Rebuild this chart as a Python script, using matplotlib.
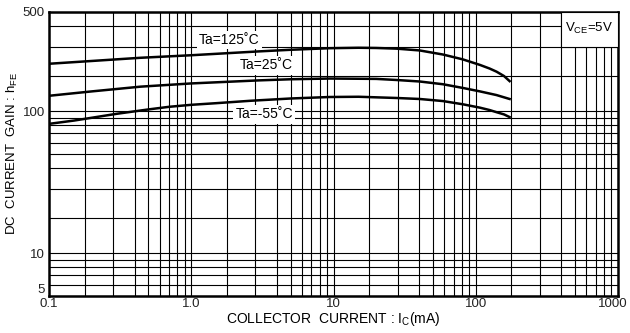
import matplotlib
matplotlib.use("Agg")
import matplotlib.pyplot as plt
import matplotlib.transforms as mtrans
from matplotlib.patches import Rectangle

plt.rcParams['font.family'] = ['Liberation Sans', 'DejaVu Sans']
plt.rcParams['mathtext.fontset'] = 'custom'
plt.rcParams['mathtext.rm'] = 'Liberation Sans'

# datos (Ic en mA, hFE)
ic_125 = [0.1, 0.2, 0.44, 1.0, 2.0, 3.0, 5.0, 9.4, 15, 20, 27.8, 40.4, 58.7, 81, 107, 125, 140, 158, 173]
hfe_125 = [216, 226, 238, 248, 258, 264, 271, 278, 280, 279, 276, 268, 251, 232, 212, 200, 190, 177, 163]

ic_25 = [0.1, 0.2, 0.44, 1.0, 2.0, 3.0, 5.0, 9.4, 20, 27.8, 40.4, 58.7, 81, 107, 140, 173]
hfe_25 = [128.5, 138, 149, 157, 162, 165, 168, 170, 169, 166, 162, 155, 146, 138, 130, 122]

ic_m55 = [0.1, 0.15, 0.2, 0.3, 0.5, 0.7, 1.0, 1.5, 2.6, 5.0, 9.4, 15, 27.8, 40.4, 58.7, 81, 107, 125, 140, 158, 173]
hfe_m55 = [81.5, 86, 90, 96, 103, 107.5, 111, 114, 118.5, 123, 126, 126.5, 124, 122, 118, 112, 106, 102, 98.5, 95, 91]

x_major = [0.1, 1, 10, 100, 1000]
x_labels = ["0.1", "1.0", "10", "100", "1000"]
y_major = [5, 10, 100, 500]
y_labels = ["5", "10", "100", "500"]
# rejilla del datasheet (las lineas 2 y 3 estan desplazadas)
grid_mult = [1.78, 2.82, 4, 5, 6, 7, 8, 9]

fig = plt.figure(figsize=(6.3, 3.33), dpi=100)
ax = fig.add_axes([49/630, 1-296/333, (618-49)/630, (296-12)/333])
ax.set_xscale("log")
ax.set_yscale("log")
ax.set_xlim(0.1, 1000)
ax.set_ylim(5, 500)

x_minor = [d*m for d in [0.1, 1, 10, 100] for m in grid_mult]
y_minor = [d*m for d in [1, 10, 100] for m in grid_mult if 5 < d*m < 500]
ax.set_xticks(x_major)
ax.set_xticklabels(x_labels)
ax.set_xticks(x_minor, minor=True)
ax.set_yticks(y_major)
ax.set_yticklabels(y_labels)
ax.set_yticks(y_minor, minor=True)
ax.xaxis.set_minor_formatter(plt.NullFormatter())
ax.yaxis.set_minor_formatter(plt.NullFormatter())
ax.tick_params(which="both", length=0, labelsize=9.5, colors="#222222")
ax.tick_params(axis="x", pad=1.5)
ax.tick_params(axis="y", pad=3)
ax.grid(which="both", color="black", lw=0.8)
ax.set_axisbelow(True)
for s in ax.spines.values():
    s.set_linewidth(1.8)

# el "5" va un poco arriba para no chocar con "0.1", y "1000" alineado a la derecha
ax.get_yticklabels()[0].set_va("bottom")
lbl = ax.get_xticklabels()[-1]
lbl.set_ha("right")
lbl.set_transform(lbl.get_transform() + mtrans.ScaledTranslation(10/100, 0, fig.dpi_scale_trans))

# curvas
ax.plot(ic_125, hfe_125, color="black", lw=1.8)
ax.plot(ic_25, hfe_25, color="black", lw=1.8)
ax.plot(ic_m55, hfe_m55, color="black", lw=1.8)

box = dict(facecolor="white", edgecolor="none", pad=1.5)
ax.text(1.85, 319, "Ta=125˚C", fontsize=10, ha="center", va="center", bbox=box)
ax.text(3.39, 210, "Ta=25˚C", fontsize=10, ha="center", va="center", bbox=box)
ax.text(3.25, 95, "Ta=-55˚C", fontsize=10, ha="center", va="center", bbox=box)

# caja VCE
ax.add_patch(Rectangle((400, 282), 600, 218, facecolor="white", edgecolor="black",
                       lw=0.8, zorder=3))
ax.text(630, 381, r"V$_{\mathregular{CE}}$=5V", fontsize=9.5, ha="center", va="center", zorder=4)

ax.set_xlabel(r"COLLECTOR  CURRENT : I$_{\mathregular{C}}$(mA)", fontsize=10, labelpad=0)
ax.set_ylabel(r"DC  CURRENT  GAIN : h$_{\mathregular{FE}}$", fontsize=9.5, labelpad=2)

fig.savefig("out.png", dpi=100)
